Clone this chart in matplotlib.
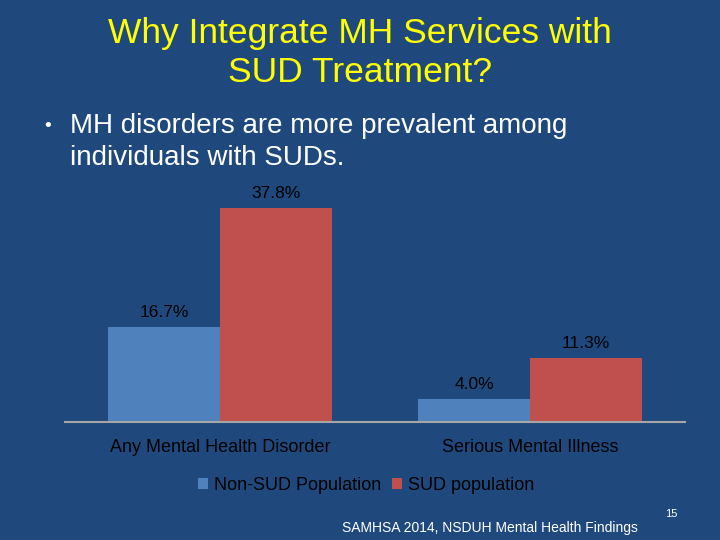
import matplotlib.pyplot as plt
import numpy as np

plt.rcParams['font.family'] = ['Liberation Sans', 'DejaVu Sans']

categories = ['Any Mental Health Disorder', 'Serious Mental Illness']
series_names = ['Non-SUD Population', 'SUD population']
non_sud = [16.7, 4.0]
sud = [37.8, 11.3]

bg = '#1F497D'
blue = '#4F81BD'
red = '#C0504D'

fig = plt.figure(figsize=(7.2, 5.4), dpi=100, facecolor=bg)
ax = fig.add_axes([65 / 720, 1 - 422 / 540, 620 / 720, 0.42])
ax.set_facecolor(bg)

x = np.arange(len(categories))
w = 0.36
b1 = ax.bar(x - w / 2, non_sud, w, color=blue, label=series_names[0])
b2 = ax.bar(x + w / 2, sud, w, color=red, label=series_names[1])

for bars, vals in [(b1, non_sud), (b2, sud)]:
    for rect, v in zip(bars, vals):
        ax.annotate(f'{v:.1f}%', (rect.get_x() + rect.get_width() / 2, v),
                    xytext=(0, 5), textcoords='offset points',
                    ha='center', va='bottom', fontsize=12.5, color='black')

ax.set_xlim(-0.5, 1.5)
ax.set_ylim(0, 40)
ax.set_yticks([])
ax.set_xticks(x)
ax.set_xticklabels(categories, fontsize=13, color='black')
ax.tick_params(axis='x', length=0, pad=12)
for s in ['top', 'right', 'left']:
    ax.spines[s].set_visible(False)
ax.spines['bottom'].set_color('#A6A6A6')
ax.spines['bottom'].set_linewidth(1.5)

leg = fig.legend(handles=[b1, b2], labels=series_names, loc='center',
                 bbox_to_anchor=(366 / 720, 1 - 485 / 540), ncol=2,
                 frameon=False, fontsize=13, handlelength=0.55,
                 handleheight=0.55, handletextpad=0.35, columnspacing=0.6)
for t in leg.get_texts():
    t.set_color('black')

fig.text(360 / 720, 1 - 33 / 540, 'Why Integrate MH Services with',
         ha='center', va='center', fontsize=25.5, color='#FFFF00')
fig.text(360 / 720, 1 - 73 / 540, 'SUD Treatment?',
         ha='center', va='center', fontsize=25.5, color='#FFFF00')

fig.text(44 / 720, 1 - 126 / 540, '•', ha='left', va='center',
         fontsize=14, color='white')
fig.text(70 / 720, 1 - 126 / 540, 'MH disorders are more prevalent among',
         ha='left', va='center', fontsize=20, color='white')
fig.text(70 / 720, 1 - 158 / 540, 'individuals with SUDs.',
         ha='left', va='center', fontsize=20, color='white')

fig.text(342 / 720, 1 - 528 / 540, 'SAMHSA 2014, NSDUH Mental Health Findings',
         ha='left', va='center', fontsize=10, color='white')
fig.text(671 / 720, 1 - 514 / 540, '15', ha='center', va='center',
         fontsize=8, color='white')

fig.savefig('out.png', dpi=100, facecolor=bg)
